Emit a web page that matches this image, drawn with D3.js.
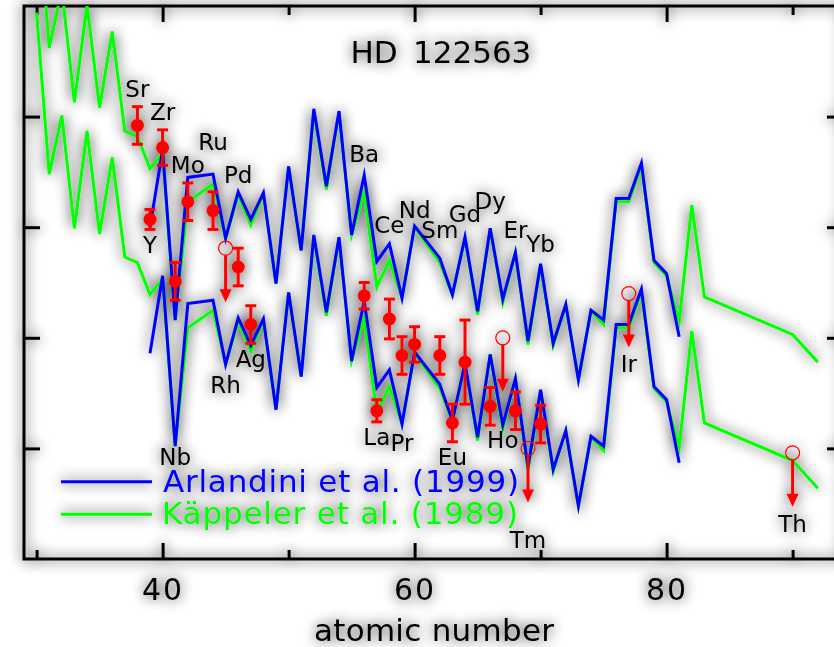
<!DOCTYPE html>
<html>
<head>
<meta charset="utf-8">
<script src="https://cdn.jsdelivr.net/npm/d3@7"></script>
<style>
  html, body { margin: 0; padding: 0; background: #ffffff; }
  svg { display: block; }
  text { font-family: "DejaVu Sans", sans-serif; fill: #000; }
</style>
</head>
<body>
<svg id="chart" width="834" height="647"></svg>
<script>
// ---------------- data ----------------
const title = ["HD", "122563"];
const xTitle = "atomic number";
const xMajorTicks = [40, 60, 80];
const xMinorTicks = [30, 50, 70, 90];
const yTicks = [1, 2, 3, 4];

// Käppeler et al. (1989) solar r-process pattern (upper normalisation)
const kapZ = [30,31,32,33,34,35,36,37,38,39,40,41,42,44,45,46,47,48,49,50,51,52,53,54,55,56,57,58,59,60,62,63,64,65,66,67,68,69,70,71,72,73,74,75,76,77,78,79,80,81,82,83,90,92];
const kapVal = [6.08,4.62,5.15,4.13,5.01,4.08,4.77,3.87,3.82,3.53,3.67,2.16,3.23,3.39,2.90,3.29,3.02,3.30,2.49,3.55,2.79,4.05,3.34,4.04,2.93,3.32,2.46,2.70,2.36,3.00,2.68,2.39,2.90,2.21,2.99,2.32,2.77,1.94,2.66,1.93,2.30,1.62,2.24,2.12,3.23,3.23,3.55,2.68,2.56,2.15,3.20,2.37,2.03,1.78];

// Arlandini et al. (1999) solar r-process pattern (upper normalisation)
const arlZ = [39,40,41,42,44,45,46,47,48,49,50,51,52,53,54,55,56,57,58,59,60,62,63,64,65,66,67,68,69,70,71,72,73,74,75,76,77,78,79,80,81];
const arlVal = [3.00,3.70,2.16,3.45,3.48,2.90,3.32,3.07,3.31,2.49,3.55,2.79,4.07,3.37,4.05,2.93,3.47,2.69,2.85,2.36,3.01,2.72,2.39,2.91,2.24,2.99,2.35,2.77,1.97,2.67,1.95,2.30,1.62,2.25,2.16,3.26,3.26,3.58,2.70,2.58,2.01];

// second (lower) normalisation of both patterns
const lowerShift = 1.14;

// HD 122563 measured abundances
const obsEl  = ["Sr","Y","Zr","Nb","Mo","Ru","Pd","Ag","Ba","La","Ce","Pr","Nd","Sm","Eu","Gd","Dy","Er","Yb"];
const obsZ   = [38,39,40,41,42,44,46,47,56,57,58,59,60,62,63,64,66,68,70];
const obsVal = [3.92,3.07,3.72,2.51,3.23,3.15,2.64,2.12,2.38,1.34,2.17,1.84,1.94,1.84,1.23,1.78,1.38,1.34,1.22];
const obsErr = [0.17,0.09,0.16,0.17,0.17,0.17,0.17,0.17,0.12,0.10,0.18,0.17,0.16,0.17,0.17,0.38,0.17,0.17,0.17];

// upper limits
const limEl  = ["Rh","Ho","Tm","Ir","Th"];
const limZ   = [45,67,69,77,90];
const limVal = [2.81,2.00,1.00,2.40,0.96];

const legendLabels = ["Arlandini et al. (1999)", "Käppeler et al. (1989)"];

// ---------------- layout ----------------
const W = 834, H = 647;
const plot = { left: 24, right: 843, top: 6, bottom: 559 };
// label baseline offsets (px) from each element's point
const labelDy = {Sr:-28.4, Y:33.5, Zr:-27.6, Nb:183.6, Mo:-28.8, Ru:-60.6, Rh:144.8, Pd:-84, Ag:42,
  Ba:-134, La:34, Ce:-85.7, Pr:96, Nd:-126, Sm:-117, Eu:42, Gd:-140.5, Dy:-197.5, Ho:110.5,
  Er:-172.5, Tm:100, Yb:-172.4, Ir:78, Th:79};

const BLUE = "#0000ff", GREEN = "#00ff00", RED = "#ff0000";

const svg = d3.select("#chart");
const defs = svg.append("defs");

const f = defs.append("filter").attr("id", "glow")
  .attr("filterUnits", "userSpaceOnUse")
  .attr("x", -60).attr("y", -60).attr("width", W + 120).attr("height", H + 120);
f.append("feGaussianBlur").attr("in", "SourceAlpha").attr("stdDeviation", 7).attr("result", "b");
f.append("feComponentTransfer").attr("in", "b").attr("result", "s")
  .append("feFuncA").attr("type", "linear").attr("slope", 0.9);
const fm = f.append("feMerge");
fm.append("feMergeNode").attr("in", "s");
fm.append("feMergeNode").attr("in", "SourceGraphic");

defs.append("clipPath").attr("id", "plotclip").append("rect")
  .attr("x", plot.left).attr("y", plot.top)
  .attr("width", plot.right - plot.left).attr("height", plot.bottom - plot.top);

svg.append("rect").attr("width", W).attr("height", H).attr("fill", "#fff");

const g = svg.append("g").attr("filter", "url(#glow)");

const x = d3.scaleLinear().domain([29, 94]).range([plot.left, plot.right]);
const y = d3.scaleLinear().domain([0, 5]).range([plot.bottom, plot.top]);

// ---------------- axes ----------------
function styleAxis(sel) {
  sel.select(".domain").remove();
  sel.selectAll(".tick line").attr("stroke", "#000").attr("stroke-width", 3);
}
g.append("g").attr("transform", `translate(0,${plot.bottom})`)
  .call(d3.axisBottom(x).tickValues(xMajorTicks).tickSize(-16).tickSizeOuter(0).tickFormat(d3.format("d")))
  .call(styleAxis)
  .call(s => s.selectAll(".tick text").attr("y", 41).attr("dy", null)
    .style("font-size", "30px").style("font-family", "DejaVu Sans").attr("fill", "#000").attr("letter-spacing", "2px"));
g.append("g").attr("transform", `translate(0,${plot.bottom})`)
  .call(d3.axisBottom(x).tickValues(xMinorTicks).tickSize(-9).tickSizeOuter(0).tickFormat(""))
  .call(styleAxis);
g.append("g").attr("transform", `translate(0,${plot.top})`)
  .call(d3.axisTop(x).tickValues(xMajorTicks).tickSize(-16).tickSizeOuter(0).tickFormat(""))
  .call(styleAxis);
g.append("g").attr("transform", `translate(0,${plot.top})`)
  .call(d3.axisTop(x).tickValues(xMinorTicks).tickSize(-9).tickSizeOuter(0).tickFormat(""))
  .call(styleAxis);
g.append("g").attr("transform", `translate(${plot.left},0)`)
  .call(d3.axisLeft(y).tickValues(yTicks).tickSize(-16).tickSizeOuter(0).tickFormat(""))
  .call(styleAxis);
g.append("g").attr("transform", `translate(${plot.right},0)`)
  .call(d3.axisRight(y).tickValues(yTicks).tickSize(-16).tickSizeOuter(0).tickFormat(""))
  .call(styleAxis);

g.append("rect").attr("x", plot.left).attr("y", plot.top)
  .attr("width", plot.right - plot.left).attr("height", plot.bottom - plot.top)
  .attr("fill", "none").attr("stroke", "#000").attr("stroke-width", 3);

g.append("text").attr("x", 434).attr("y", 641).attr("text-anchor", "middle")
  .style("font-size", "31px").attr("textLength", 240).attr("lengthAdjust", "spacing").text(xTitle);

// ---------------- curves ----------------
const curves = g.append("g").attr("clip-path", "url(#plotclip)");
const line = d3.line().x(d => x(d[0])).y(d => y(d[1]));
const kapUpper = kapZ.map((z, i) => [z, kapVal[i]]);
const kapLower = kapZ.map((z, i) => [z, kapVal[i] - lowerShift]);
const arlUpper = arlZ.map((z, i) => [z, arlVal[i]]);
const arlLower = arlZ.map((z, i) => [z, arlVal[i] - lowerShift]);
[[kapUpper, GREEN], [kapLower, GREEN], [arlUpper, BLUE], [arlLower, BLUE]].forEach(([d, c]) => {
  curves.append("path").attr("d", line(d)).attr("fill", "none")
    .attr("stroke", c).attr("stroke-width", 3).attr("stroke-linejoin", "miter").attr("stroke-miterlimit", 6);
});

// ---------------- observations ----------------
const obs = g.append("g");
obsZ.forEach((z, i) => {
  const cx = x(z), lo = y(obsVal[i] - obsErr[i]), hi = y(obsVal[i] + obsErr[i]);
  obs.append("line").attr("x1", cx).attr("x2", cx).attr("y1", lo).attr("y2", hi)
    .attr("stroke", RED).attr("stroke-width", 3);
  [lo, hi].forEach(yy => obs.append("line").attr("x1", cx - 5.5).attr("x2", cx + 5.5)
    .attr("y1", yy).attr("y2", yy).attr("stroke", RED).attr("stroke-width", 3));
  obs.append("circle").attr("cx", cx).attr("cy", y(obsVal[i])).attr("r", 6.5).attr("fill", RED);
});
limZ.forEach((z, i) => {
  const cx = x(z), cy = y(limVal[i]);
  obs.append("circle").attr("cx", cx).attr("cy", cy).attr("r", 7)
    .attr("fill", "none").attr("stroke", RED).attr("stroke-width", 1.2);
  obs.append("line").attr("x1", cx).attr("x2", cx).attr("y1", cy + 7).attr("y2", cy + 44)
    .attr("stroke", RED).attr("stroke-width", 3);
  obs.append("path").attr("d", `M${cx - 6},${cy + 41} L${cx + 6},${cy + 41} L${cx},${cy + 54} Z`)
    .attr("fill", RED);
});

// ---------------- element labels ----------------
const lab = g.append("g").style("font-size", "23px");
obsEl.forEach((el, i) => {
  lab.append("text").attr("x", x(obsZ[i])).attr("y", y(obsVal[i]) + labelDy[el])
    .attr("text-anchor", "middle").text(el);
});
limEl.forEach((el, i) => {
  lab.append("text").attr("x", x(limZ[i])).attr("y", y(limVal[i]) + labelDy[el])
    .attr("text-anchor", "middle").text(el);
});

// ---------------- title ----------------
const t = g.append("text").attr("y", 63.3).style("font-size", "31px");
t.append("tspan").attr("x", 350.5).text(title[0]);
t.append("tspan").attr("x", 413).text(title[1]);

// ---------------- legend ----------------
const leg = g.append("g");
[[legendLabels[0], BLUE, 481.7, 491.7, 163, 356], [legendLabels[1], GREEN, 514.3, 524, 162, 356]].forEach(([txt, c, ly, ty, tx, tl]) => {
  leg.append("line").attr("x1", 61).attr("x2", 152).attr("y1", ly).attr("y2", ly)
    .attr("stroke", c).attr("stroke-width", 3);
  leg.append("text").attr("x", tx).attr("y", ty).style("font-size", "31px")
    .attr("textLength", tl).attr("lengthAdjust", "spacing")
    .style("fill", c).text(txt);
});
</script>
</body>
</html>
